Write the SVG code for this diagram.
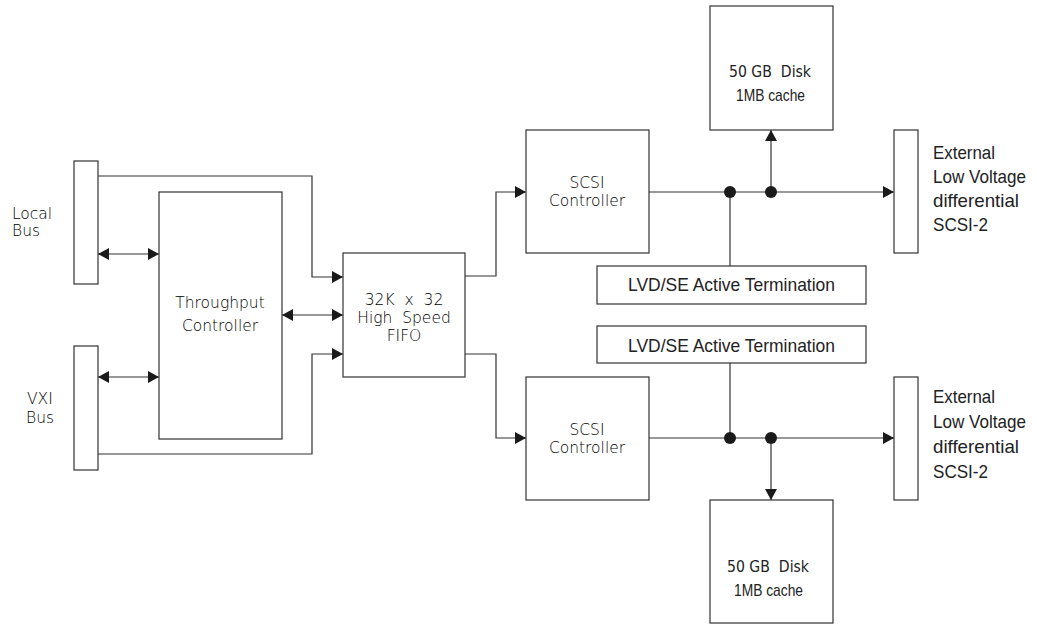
<svg xmlns="http://www.w3.org/2000/svg" width="1037" height="624" viewBox="0 0 1037 624">
<style>
  .box { fill: #fff; stroke: #333; stroke-width: 1.2; }
  .ln { fill: none; stroke: #333; stroke-width: 1.2; }
  .iso { font-family: "DejaVu Sans", sans-serif; font-weight: 200; font-size: 15.5px; fill: #000; }
  .nar { font-family: "Liberation Sans", Arial, sans-serif; font-size: 19px; fill: #222; }
  .dot { fill: #1a1a1a; }
</style>
<defs>
  <marker id="ah" markerUnits="userSpaceOnUse" markerWidth="11" markerHeight="12" refX="11" refY="6" orient="auto-start-reverse">
    <path d="M0,0 L11,6 L0,12 z" fill="#1a1a1a"/>
  </marker>
</defs>
<rect width="1037" height="624" fill="#fff"/>

<g id="connectors">
  <path class="ln" d="M98,176 H312 V277 H343" marker-end="url(#ah)"/>
  <path class="ln" d="M98,454 H312 V354 H343" marker-end="url(#ah)"/>
  <path class="ln" d="M98,254 H159" marker-start="url(#ah)" marker-end="url(#ah)"/>
  <path class="ln" d="M98,377 H159" marker-start="url(#ah)" marker-end="url(#ah)"/>
  <path class="ln" d="M282,315 H343" marker-start="url(#ah)" marker-end="url(#ah)"/>
  <path class="ln" d="M465,276 H496 V192 H526" marker-end="url(#ah)"/>
  <path class="ln" d="M465,354 H496 V438 H526" marker-end="url(#ah)"/>
  <path class="ln" d="M649,192 H894" marker-end="url(#ah)"/>
  <path class="ln" d="M771,192 V130" marker-end="url(#ah)"/>
  <path class="ln" d="M730,192 V266"/>
  <path class="ln" d="M649,438 H894" marker-end="url(#ah)"/>
  <path class="ln" d="M771,438 V500" marker-end="url(#ah)"/>
  <path class="ln" d="M730,363 V438"/>
  <circle class="dot" cx="730" cy="192" r="6"/>
  <circle class="dot" cx="771" cy="192" r="6"/>
  <circle class="dot" cx="730" cy="438" r="6"/>
  <circle class="dot" cx="771" cy="438" r="6"/>
</g>

<g id="local-bus">
  <rect class="box" x="74" y="161" width="24" height="123"/>
  <text class="iso" x="12" y="219">Local</text>
  <text class="iso" x="12" y="236">Bus</text>
</g>
<g id="vxi-bus">
  <rect class="box" x="74" y="346" width="24" height="124"/>
  <text class="iso" x="27" y="404">VXI</text>
  <text class="iso" x="26" y="423">Bus</text>
</g>
<g id="throughput-controller">
  <rect class="box" x="159" y="192" width="123" height="247"/>
  <text class="iso" x="220" y="308" text-anchor="middle">Throughput</text>
  <text class="iso" x="220" y="331" text-anchor="middle">Controller</text>
</g>
<g id="fifo">
  <rect class="box" x="343" y="253" width="122" height="124"/>
  <text class="iso" x="404" y="305" text-anchor="middle" xml:space="preserve">32K  x  32</text>
  <text class="iso" x="404" y="323" text-anchor="middle" xml:space="preserve">High  Speed</text>
  <text class="iso" x="404" y="341" text-anchor="middle">FIFO</text>
</g>
<g id="scsi-controller-1">
  <rect class="box" x="526" y="130" width="123" height="123"/>
  <text class="iso" x="587" y="188" text-anchor="middle">SCSI</text>
  <text class="iso" x="587" y="206" text-anchor="middle">Controller</text>
</g>
<g id="scsi-controller-2">
  <rect class="box" x="526" y="377" width="123" height="123"/>
  <text class="iso" x="587" y="435" text-anchor="middle">SCSI</text>
  <text class="iso" x="587" y="453" text-anchor="middle">Controller</text>
</g>
<g id="termination-1">
  <rect class="box" x="597" y="266" width="269" height="38"/>
  <text class="nar" x="628" y="291" textLength="207" lengthAdjust="spacingAndGlyphs">LVD/SE Active Termination</text>
</g>
<g id="termination-2">
  <rect class="box" x="597" y="326" width="269" height="37"/>
  <text class="nar" x="628" y="352" textLength="207" lengthAdjust="spacingAndGlyphs">LVD/SE Active Termination</text>
</g>
<g id="disk-1">
  <rect class="box" x="710" y="6" width="123" height="124"/>
  <text class="iso" x="729" y="77" xml:space="preserve" style="font-weight:normal;font-size:15px;fill:#222" textLength="82" lengthAdjust="spacingAndGlyphs">50 GB  Disk</text>
  <text class="nar" x="736" y="101" style="font-size:17px" textLength="69" lengthAdjust="spacingAndGlyphs">1MB cache</text>
</g>
<g id="disk-2">
  <rect class="box" x="710" y="500" width="123" height="123"/>
  <text class="iso" x="727" y="572" xml:space="preserve" style="font-weight:normal;font-size:15px;fill:#222" textLength="82" lengthAdjust="spacingAndGlyphs">50 GB  Disk</text>
  <text class="nar" x="734" y="596" style="font-size:17px" textLength="69" lengthAdjust="spacingAndGlyphs">1MB cache</text>
</g>
<g id="external-1">
  <rect class="box" x="894" y="130" width="24" height="123"/>
  <text class="nar" x="933" y="159" textLength="62" lengthAdjust="spacingAndGlyphs">External</text>
  <text class="nar" x="933" y="183" textLength="93" lengthAdjust="spacingAndGlyphs">Low Voltage</text>
  <text class="nar" x="933" y="207" textLength="86" lengthAdjust="spacingAndGlyphs">differential</text>
  <text class="nar" x="933" y="231" textLength="55" lengthAdjust="spacingAndGlyphs">SCSI-2</text>
</g>
<g id="external-2">
  <rect class="box" x="894" y="377" width="24" height="123"/>
  <text class="nar" x="933" y="403" textLength="62" lengthAdjust="spacingAndGlyphs">External</text>
  <text class="nar" x="933" y="428" textLength="93" lengthAdjust="spacingAndGlyphs">Low Voltage</text>
  <text class="nar" x="933" y="453" textLength="86" lengthAdjust="spacingAndGlyphs">differential</text>
  <text class="nar" x="933" y="478" textLength="55" lengthAdjust="spacingAndGlyphs">SCSI-2</text>
</g>
</svg>
